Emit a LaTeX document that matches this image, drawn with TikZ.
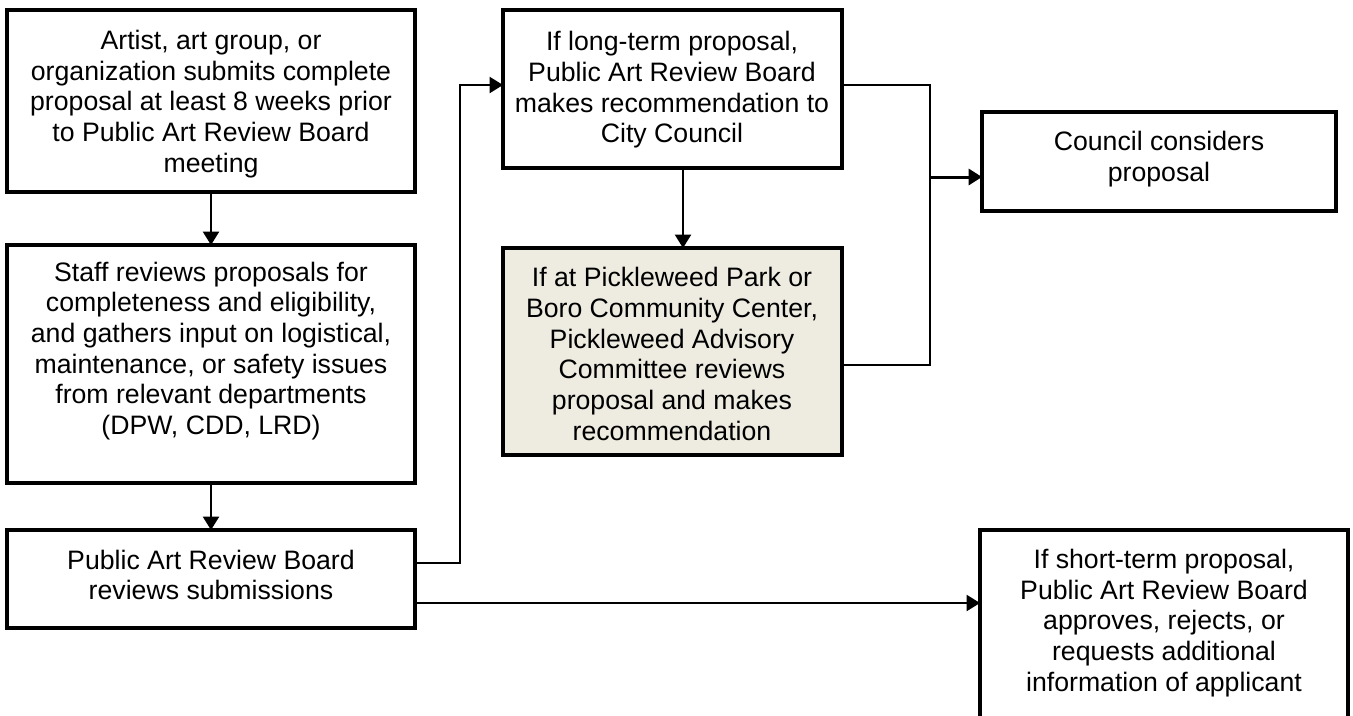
\documentclass[tikz,border=0pt]{standalone}
\usepackage{fontspec}
\setmainfont{Liberation Sans}
\usetikzlibrary{arrows.meta,positioning}
\definecolor{boxfill}{HTML}{EEECE1}
\tikzset{
  box/.style={draw=black, line width=3pt, fill=white, inner sep=0pt, outer sep=0pt},
  txt/.style={align=center, font=\fontsize{20}{23}\selectfont, inner sep=0pt},
  conn/.style={draw=black, line width=1.5pt},
  arr/.style={conn, -{Triangle[length=10pt,width=12pt]}},
}
\begin{document}
\begin{tikzpicture}[x=0.75pt,y=-0.75pt]
\useasboundingbox (0,0) rectangle (1353,715);
\begin{scope}
\clip (0,0) rectangle (1353,715);
% boxes
\node[box, anchor=north west, minimum width=306pt, minimum height=136.5pt] (b1) at (7,10) {};
\node[box, anchor=north west, minimum width=306pt, minimum height=178.5pt] (b2) at (7,245) {};
\node[box, anchor=north west, minimum width=306pt, minimum height=73.5pt] (b3) at (7,530) {};
\node[box, anchor=north west, minimum width=254.25pt, minimum height=118.5pt] (b4) at (503,10) {};
\node[box, fill=boxfill, anchor=north west, minimum width=254.25pt, minimum height=155.25pt] (b5) at (503,248) {};
\node[box, anchor=north west, minimum width=265.5pt, minimum height=74.25pt] (b7) at (982,112) {};
\node[box, anchor=north west, minimum width=276pt, minimum height=200pt] (b6) at (980,530) {};
\end{scope}
% texts
\node[txt] (t1) at (211,104) {Artist, art group, or\\organization submits complete\\proposal at least 8 weeks prior\\to Public Art Review Board\\meeting};
\node[txt] (t2) at (211,351) {Staff reviews proposals for\\completeness and eligibility,\\and gathers input on logistical,\\maintenance, or safety issues\\from relevant departments\\(DPW, CDD, LRD)};
\node[txt] (t3) at (211,575) {Public Art Review Board\\reviews submissions};
\node[txt] (t4) at (672,90) {If long-term proposal,\\Public Art Review Board\\makes recommendation to\\City Council};
\node[txt] (t5) at (672,354) {If at Pickleweed Park or\\Boro Community Center,\\Pickleweed Advisory\\Committee reviews\\proposal and makes\\recommendation};
\node[txt] (t7) at (1159,159) {Council considers\\proposal};
\node[txt] (t6) at (1164,623) {If short-term proposal,\\Public Art Review Board\\approves, rejects, or\\requests additional\\information of applicant};
% connectors
\coordinate (c1) at (460,563);
\coordinate (c2) at (460,85);
\coordinate (c3) at (930,85);
\coordinate (c4) at (930,365);
\coordinate (c5) at (930,177);
\draw[arr] (b1.south) -- (b2.north);
\draw[arr] (b2.south) -- (b3.north);
\draw[arr] (b3.east |- c1) -- (c1) -- (c2) -- (b4.west |- c2);
\draw[arr] (b3.east |- 0,603) -- (b6.west |- 0,603);
\draw[arr] (683,0 |- b4.south) -- (683,0 |- b5.north);
\draw[conn] (b4.east |- c3) -- (c3) -- (c4) -- (b5.east |- c4);
\draw[arr, line width=2.25pt] (c5) -- (b7.west |- c5);
\end{tikzpicture}
\end{document}
